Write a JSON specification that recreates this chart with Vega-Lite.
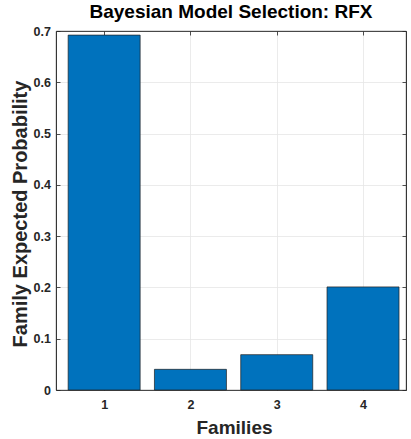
{
  "$schema": "https://vega.github.io/schema/vega-lite/v6.json",
  "autosize": "none",
  "width": 350,
  "height": 359,
  "padding": {"left": 56, "top": 31, "right": 5, "bottom": 49},
  "background": "white",
  "config": {
    "font": "Liberation Sans",
    "view": {"stroke": "#262626", "strokeWidth": 0.8},
    "axis": {
      "labelFont": "Liberation Sans",
      "labelFontWeight": "bold",
      "labelFontSize": 12.5,
      "labelColor": "#262626",
      "titleFont": "Liberation Sans",
      "titleFontWeight": "bold",
      "titleColor": "#262626",
      "domainColor": "#262626",
      "domainWidth": 0.8,
      "tickColor": "#262626",
      "tickWidth": 0.8,
      "tickSize": -4,
      "gridColor": "#e6e6e6",
      "gridWidth": 0.8
    }
  },
  "title": {
    "text": "Bayesian Model Selection: RFX",
    "font": "Liberation Sans",
    "fontSize": 19,
    "fontWeight": "bold",
    "color": "#000000",
    "anchor": "middle",
    "offset": 3
  },
  "data": {
    "values": [
      {"family": 1, "prob": 0.692},
      {"family": 2, "prob": 0.0403},
      {"family": 3, "prob": 0.0689},
      {"family": 4, "prob": 0.201}
    ]
  },
  "layer": [
    {
      "mark": {"type": "bar", "width": 72, "color": "#0072BD", "stroke": "#1f1f1f", "strokeWidth": 0.7},
      "encoding": {
        "x": {
          "field": "family",
          "type": "quantitative",
          "scale": {"domain": [0.5, 4.44], "nice": false, "zero": false},
          "axis": {
            "orient": "bottom",
            "values": [1, 2, 3, 4],
            "format": "d",
            "title": "Families",
            "titleFontSize": 19,
            "titleBaseline": "alphabetic",
            "titleX": 178,
            "titleY": 43,
            "labelPadding": 12,
            "grid": true
          }
        },
        "y": {
          "field": "prob",
          "type": "quantitative",
          "scale": {"domain": [0, 0.7], "nice": false},
          "axis": {
            "orient": "left",
            "values": [0, 0.1, 0.2, 0.3, 0.4, 0.5, 0.6, 0.7],
            "labelExpr": "datum.value == 0 ? '0' : format(datum.value, '.1f')",
            "title": "Family Expected Probability",
            "titleFontSize": 20,
            "titleBaseline": "alphabetic",
            "titleAngle": -90,
            "titleX": -29.5,
            "titleY": 182.5,
            "labelPadding": 9.5,
            "grid": true
          }
        }
      }
    },
    {
      "mark": {"type": "bar", "width": 72, "opacity": 0},
      "encoding": {
        "x": {
          "field": "family",
          "type": "quantitative",
          "axis": {"orient": "top", "values": [1, 2, 3, 4], "labels": false, "title": null, "grid": false, "minExtent": 0, "maxExtent": 0}
        },
        "y": {
          "field": "prob",
          "type": "quantitative",
          "axis": {"orient": "right", "values": [0, 0.1, 0.2, 0.3, 0.4, 0.5, 0.6, 0.7], "labels": false, "title": null, "grid": false, "minExtent": 0, "maxExtent": 0}
        }
      }
    }
  ],
  "resolve": {"axis": {"x": "independent", "y": "independent"}}
}
